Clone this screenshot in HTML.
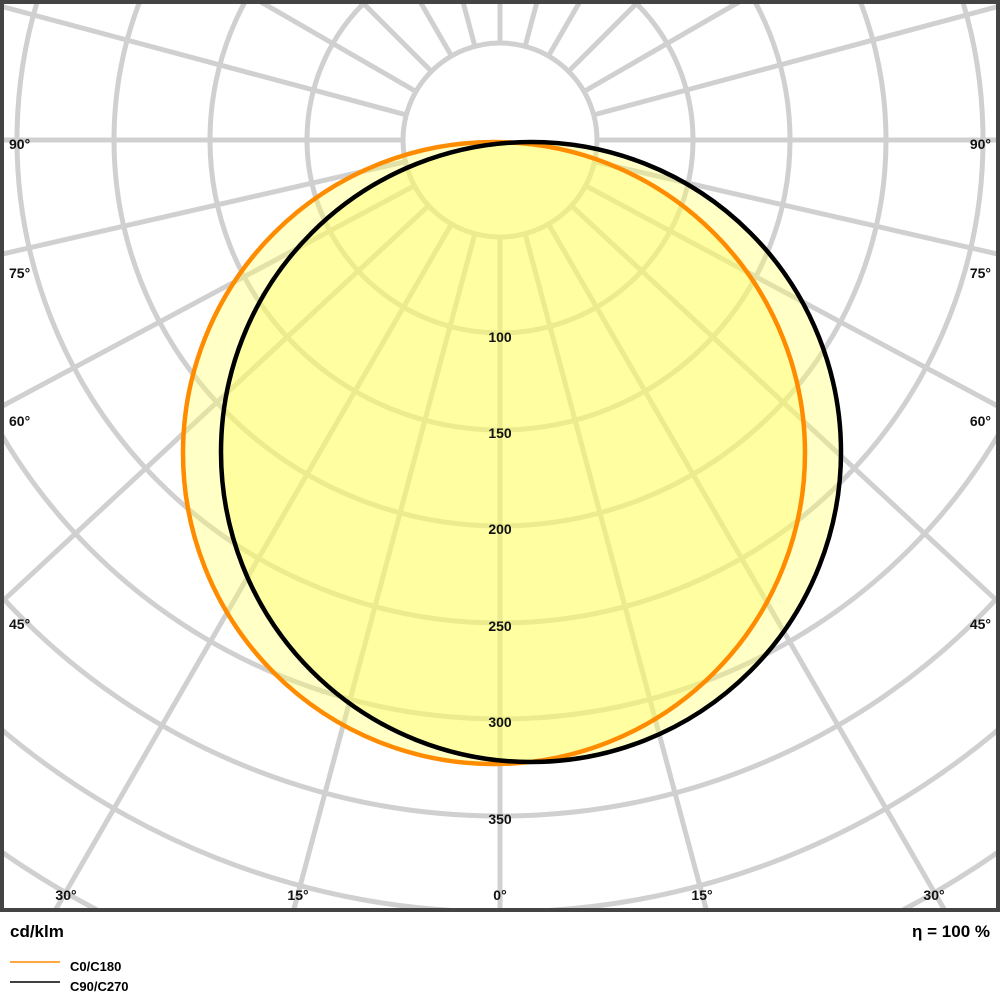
<!DOCTYPE html>
<html><head><style>html,body{margin:0;background:#fff;overflow:hidden;width:1000px;height:1000px}svg{display:block}</style></head><body>
<svg width="1000" height="1000" xmlns="http://www.w3.org/2000/svg" font-family="Liberation Sans, sans-serif">
<defs><clipPath id="c"><rect x="4" y="4" width="992" height="904"/></clipPath></defs>
<g clip-path="url(#c)" stroke="#d0d0d0" stroke-width="5" fill="none">
<circle cx="500" cy="140" r="97"/><circle cx="500" cy="140" r="193"/><circle cx="500" cy="140" r="290"/>
<circle cx="500" cy="140" r="386"/><circle cx="500" cy="140" r="483"/><circle cx="500" cy="140" r="579"/>
<circle cx="500" cy="140" r="676"/><circle cx="500" cy="140" r="772"/><circle cx="500" cy="140" r="869"/>
<line x1="500" y1="237" x2="500" y2="1400"/>
<line x1="500" y1="237" x2="500" y2="1400" transform="rotate(15 500 140)"/>
<line x1="500" y1="237" x2="500" y2="1400" transform="rotate(30 500 140)"/>
<line x1="500" y1="237" x2="500" y2="1400" transform="rotate(-15 500 140)"/>
<line x1="500" y1="237" x2="500" y2="1400" transform="rotate(-30 500 140)"/>
<line x1="428.6" y1="205.7" x2="-50" y2="650"/>
<line x1="571.4" y1="205.7" x2="1050" y2="650"/>
<line x1="414.5" y1="185.7" x2="-50" y2="434"/>
<line x1="585.5" y1="185.7" x2="1050" y2="434"/>
<line x1="405.5" y1="161.7" x2="-50" y2="266"/>
<line x1="594.5" y1="161.7" x2="1050" y2="266"/>
<line x1="500" y1="237" x2="500" y2="1400" transform="rotate(90 500 140)"/>
<line x1="500" y1="237" x2="500" y2="1400" transform="rotate(105 500 140)"/>
<line x1="500" y1="237" x2="500" y2="1400" transform="rotate(120 500 140)"/>
<line x1="500" y1="237" x2="500" y2="1400" transform="rotate(135 500 140)"/>
<line x1="500" y1="237" x2="500" y2="1400" transform="rotate(150 500 140)"/>
<line x1="500" y1="237" x2="500" y2="1400" transform="rotate(165 500 140)"/>
<line x1="500" y1="237" x2="500" y2="1400" transform="rotate(180 500 140)"/>
<line x1="500" y1="237" x2="500" y2="1400" transform="rotate(-90 500 140)"/>
<line x1="500" y1="237" x2="500" y2="1400" transform="rotate(-105 500 140)"/>
<line x1="500" y1="237" x2="500" y2="1400" transform="rotate(-120 500 140)"/>
<line x1="500" y1="237" x2="500" y2="1400" transform="rotate(-135 500 140)"/>
<line x1="500" y1="237" x2="500" y2="1400" transform="rotate(-150 500 140)"/>
<line x1="500" y1="237" x2="500" y2="1400" transform="rotate(-165 500 140)"/>
</g>
<circle cx="494" cy="453" r="311" fill="#ffff60" fill-opacity="0.36"/>
<circle cx="531" cy="452" r="310" fill="#ffff60" fill-opacity="0.36"/>
<circle cx="494" cy="453" r="311" fill="none" stroke="#ff8c00" stroke-width="4.5"/>
<circle cx="531" cy="452" r="310" fill="none" stroke="#000" stroke-width="4.5"/>
<rect x="2" y="2" width="996" height="908" fill="none" stroke="#444" stroke-width="4"/>
<g font-size="14" font-weight="bold" fill="#111" text-anchor="middle">
<text x="500" y="342">100</text><text x="500" y="438">150</text><text x="500" y="534">200</text>
<text x="500" y="631">250</text><text x="500" y="727">300</text><text x="500" y="824">350</text>
<text x="66" y="900">30°</text><text x="298" y="900">15°</text><text x="500" y="900">0°</text>
<text x="702" y="900">15°</text><text x="934" y="900">30°</text>
</g>
<g font-size="14" font-weight="bold" fill="#111">
<text x="9" y="149">90°</text><text x="9" y="278">75°</text><text x="9" y="426">60°</text><text x="9" y="629">45°</text>
<text x="991" y="149" text-anchor="end">90°</text><text x="991" y="278" text-anchor="end">75°</text>
<text x="991" y="426" text-anchor="end">60°</text><text x="991" y="629" text-anchor="end">45°</text>
</g>
<text x="10" y="937" font-size="17" font-weight="bold">cd/klm</text>
<text x="990" y="937" font-size="17" font-weight="bold" text-anchor="end">η = 100 %</text>
<line x1="10" y1="962" x2="60" y2="962" stroke="#ff8c00" stroke-width="1.5"/>
<line x1="10" y1="982" x2="60" y2="982" stroke="#000" stroke-width="1.5"/>
<text x="70" y="971" font-size="13" font-weight="bold">C0/C180</text>
<text x="70" y="991" font-size="13" font-weight="bold">C90/C270</text>
</svg>
</body></html>
